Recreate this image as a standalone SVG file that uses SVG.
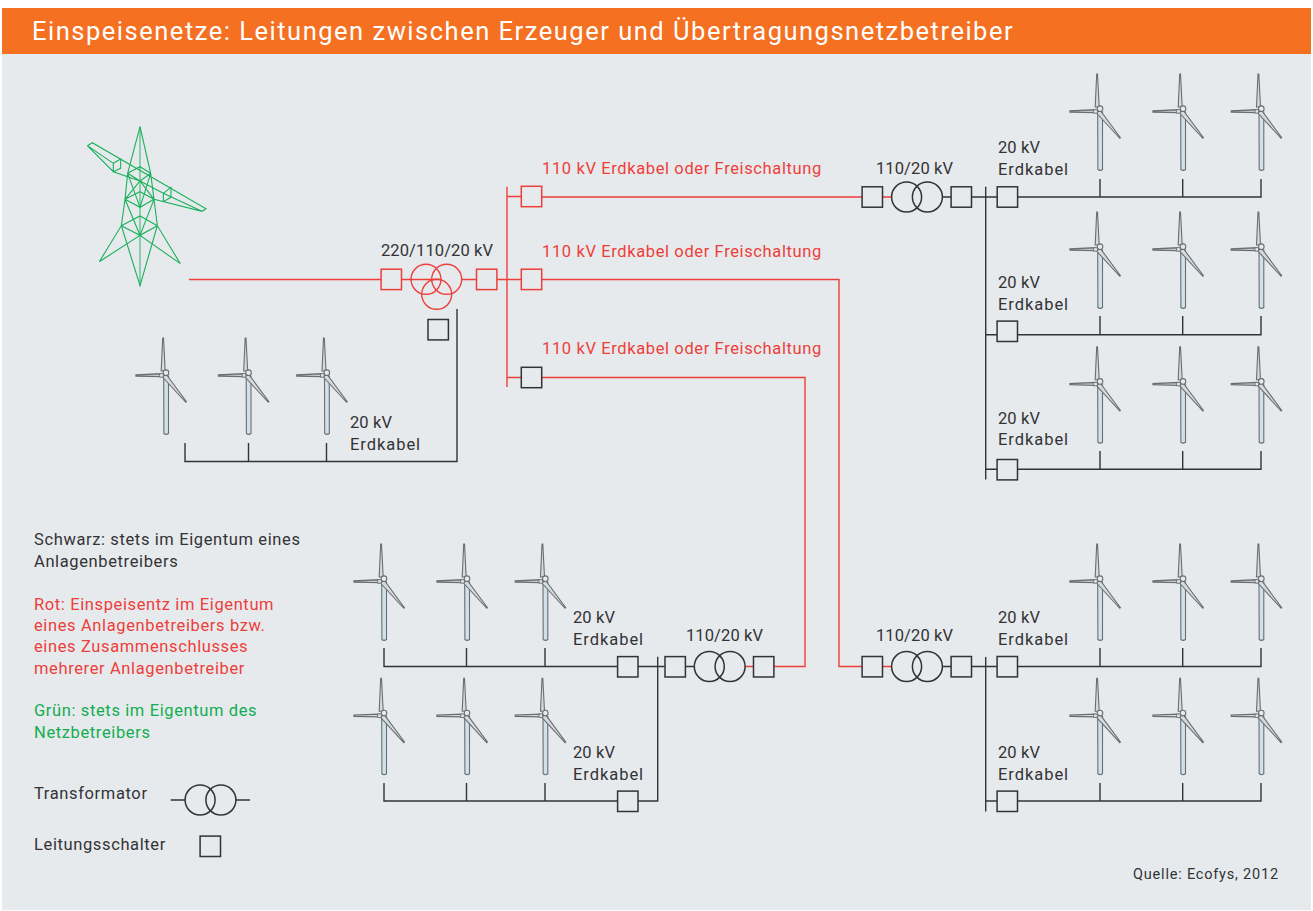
<svg xmlns="http://www.w3.org/2000/svg" width="1313" height="911" viewBox="0 0 1313 911">
<style>
text{font-family:"Roboto","Liberation Sans",sans-serif;font-size:16.500px;letter-spacing:.62px;fill:#333335}
.r{fill:#ee3e3a}.g{fill:#12ad50}
text.n{letter-spacing:.1px}
text.e{letter-spacing:.95px}
.k{fill:none;stroke:#333335;stroke-width:1.400}
.w{fill:none;stroke:#ee3e3a;stroke-width:1.400}
.sk{fill:none;stroke:#333335;stroke-width:1.500}
.sr{fill:none;stroke:#ee3e3a;stroke-width:1.500}
.p{fill:none;stroke:#1bb05a;stroke-width:3.300}
.b{fill:#d6dadc;stroke:#6a6e72;stroke-width:1.100}
</style>
<defs>
<g id="turb">
<path class="b" d="M.7 38L.9 95.500Q3.200 97.300 5.500 95.500L5.500 38Z" style="fill:#cfe2e9"/>
<path class="b" d="M-.3 0L.5 0L2.200 33L-1.800 33Z"/>
<path class="b" d="M-27 36.800L-27 38L-2 38.600L-2 35.800Z" style="stroke-width:1.300"/>
<path class="b" d="M-.5 39L22.800 64.300L23.400 63.700L3 36Z"/>
<circle cx="3" cy="34.700" r="2.800" fill="#e6eaed" stroke="#6a6e72" stroke-width="1.100"/>
<rect x="-3.300" y="35.700" width="3.600" height="3.400" fill="#e6eaed" stroke="#6a6e72" stroke-width=".9"/>
</g>
<g id="tk"><circle cx="-10.400" r="15" class="sk"/><circle cx="10.400" r="15" class="sk"/></g>
<rect id="swk" x="-10.200" y="-10.200" width="20.400" height="20.400" class="sk"/>
<rect id="swr" x="-10.200" y="-10.200" width="20.400" height="20.400" class="sr"/>
</defs>
<rect width="1313" height="911" fill="#fff"/>
<rect x="2" y="54" width="1309" height="856" fill="#e6eaed"/>
<rect x="2" y="8" width="1309" height="46" fill="#f57021"/>
<text x="32" y="40" style="font-size:25.500px;letter-spacing:1.510px;fill:#fff">Einspeisenetze: Leitungen zwischen Erzeuger und Übertragungsnetzbetreiber</text>

<g id="connectors">
<path class="w" d="M189 279.500H381M401.500 279.500H441M461.700 279.500H476.500M497 279.500H521.500M542 279.500H839V666.500H862M882.500 666.500H892M507 186.700V387M507 196.500H521.500M542 197H862M882.500 197H892M507 377.500H521.500M542 377.500H805V666.500H774M753.500 666.500H745"/>
<path class="k" d="M457 309V461.500H185V443M248.500 443V461.500M326.500 443V461.500"/>
<path class="k" d="M942.500 197H951M971.700 197H997M1017.700 197H1261V179M1100 179V197M1182.700 179V197M985.700 186.700V479.500M985.700 334.700H997M1017.700 334.700H1261V316M1100 316V334.700M1182.700 316V334.700M985.700 469.300H997M1017.700 469.300H1261V451M1100 451V469.300M1182.700 451V469.300"/>
<path class="k" d="M942.500 666.500H951M971.700 666.500H997M1017.700 666.500H1261V648M1100 648V666.500M1182.700 648V666.500M985.700 657V811.500M985.700 801H997M1017.700 801H1261V783M1100 783V801M1182.700 783V801"/>
<path class="k" d="M384 648V666.500H617.500M638 666.500H664.800M685.700 666.500H694.500M466.500 648V666.500M545 648V666.500M657.700 656.700V801H638M617.500 801H384V783M466.500 783V801M545 783V801"/>
<path class="k" d="M170.700 800H185M236 800H250"/>
</g>

<g id="pylon" transform="translate(70 110) scale(.33333)" class="p">
<path d="M210 50V527" stroke-width="5" stroke-opacity=".55"/>
<path d="M210 50L173 190L165 268L154 347L88 455M210 50L242 190L252 268L262 347L331 461M154 347L210 527L262 347M88 455L210 376L331 461M154 347L210 376L262 347M154 347L210 318L262 347M165 268L210 292L252 268M165 268L210 245L252 268M173 190L210 213L242 190M173 190L210 170L242 190M173 190L210 292L242 190M165 268L210 213L252 268M165 268L210 376L252 268M52 107L67 98L408 296L396 304L252 268M52 107L130 185L210 213L280 250L396 304M52 107L130 160M130 160V185L152 175V147L130 160M280 250V275L303 262V232L280 250"/>
</g>

<g id="trafo-main" fill="none" stroke="#ee3e3a" stroke-width="1.400"><circle cx="426" cy="279.300" r="15"/><circle cx="446.700" cy="279.300" r="15"/><circle cx="436.700" cy="294.300" r="15"/></g>
<g id="sw-red"><use href="#swr" x="391.300" y="279.400"/><use href="#swr" x="486.700" y="279.400"/><use href="#swr" x="531.500" y="196.500"/><use href="#swr" x="531.500" y="279.400"/></g>
<g id="sw-black">
<use href="#swk" x="438.200" y="329.700"/><use href="#swk" x="531.500" y="377.500"/>
<use href="#swk" x="872.300" y="197"/><use href="#swk" x="961.300" y="197"/><use href="#swk" x="1007.400" y="197"/><use href="#swk" x="1007.300" y="331.300"/><use href="#swk" x="1007.300" y="469.700"/>
<use href="#swk" x="872.300" y="666.700"/><use href="#swk" x="961.300" y="666.700"/><use href="#swk" x="1007.300" y="666.700"/><use href="#swk" x="1007.300" y="801.300"/>
<use href="#swk" x="627.800" y="666.800"/><use href="#swk" x="675.200" y="666.800"/><use href="#swk" x="763.700" y="666.800"/><use href="#swk" x="627.800" y="801.300"/>
<use href="#swk" x="210.300" y="846.300"/>
</g>
<g id="trafos"><use href="#tk" x="917" y="197"/><use href="#tk" x="917" y="666.500"/><use href="#tk" x="719.700" y="666.500"/><use href="#tk" x="210.500" y="800"/></g>

<g id="turbines">
<use href="#turb" x="1097" y="74"/><use href="#turb" x="1180" y="74"/><use href="#turb" x="1258.300" y="74"/>
<use href="#turb" x="1097" y="212"/><use href="#turb" x="1180" y="212"/><use href="#turb" x="1258.300" y="212"/>
<use href="#turb" x="1097" y="346.700"/><use href="#turb" x="1180" y="346.700"/><use href="#turb" x="1258.300" y="346.700"/>
<use href="#turb" x="1097" y="544"/><use href="#turb" x="1180" y="544"/><use href="#turb" x="1258.300" y="544"/>
<use href="#turb" x="1097" y="678.300"/><use href="#turb" x="1180" y="678.300"/><use href="#turb" x="1258.300" y="678.300"/>
<use href="#turb" x="163" y="338"/><use href="#turb" x="245.500" y="338"/><use href="#turb" x="323.800" y="338"/>
<use href="#turb" x="381" y="544"/><use href="#turb" x="464" y="544"/><use href="#turb" x="542.300" y="544"/>
<use href="#turb" x="381" y="678.300"/><use href="#turb" x="464" y="678.300"/><use href="#turb" x="542.300" y="678.300"/>
</g>

<g id="labels">
<text class="n" x="381" y="256">220/110/20 kV</text>
<text class="n" x="876" y="174">110/20 kV</text><text class="n" x="876" y="641">110/20 kV</text><text class="n" x="686" y="641">110/20 kV</text>
<text class="r" x="542" y="174">110 kV Erdkabel oder Freischaltung</text>
<text class="r" x="542" y="256.500">110 kV Erdkabel oder Freischaltung</text>
<text class="r" x="542" y="354">110 kV Erdkabel oder Freischaltung</text>
<text class="n" x="998" y="153">20 kV</text><text class="e" x="998" y="175">Erdkabel</text>
<text class="n" x="998" y="288">20 kV</text><text class="e" x="998" y="310">Erdkabel</text>
<text class="n" x="998" y="423.500">20 kV</text><text class="e" x="998" y="445">Erdkabel</text>
<text class="n" x="998" y="623">20 kV</text><text class="e" x="998" y="645">Erdkabel</text>
<text class="n" x="998" y="758">20 kV</text><text class="e" x="998" y="779.500">Erdkabel</text>
<text class="n" x="573" y="623">20 kV</text><text class="e" x="573" y="645">Erdkabel</text>
<text class="n" x="573" y="758">20 kV</text><text class="e" x="573" y="779.500">Erdkabel</text>
<text class="n" x="350" y="428">20 kV</text><text class="e" x="350" y="450">Erdkabel</text>
<text x="34" y="545">Schwarz: stets im Eigentum eines</text><text x="34" y="567">Anlagenbetreibers</text>
<text class="r" x="34" y="609.500">Rot: Einspeisentz im Eigentum</text><text class="r" x="34" y="630.500">eines Anlagenbetreibers bzw.</text><text class="r" x="34" y="652">eines Zusammenschlusses</text><text class="r" x="34" y="673.500">mehrerer Anlagenbetreiber</text>
<text class="g" x="34" y="716">Grün: stets im Eigentum des</text><text class="g" x="34" y="737.500">Netzbetreibers</text>
<text x="34" y="799">Transformator</text>
<text x="34" y="850">Leitungsschalter</text>
<text x="1133" y="879" style="font-size:14.500px;letter-spacing:.8px">Quelle: Ecofys, 2012</text>
</g>
</svg>
